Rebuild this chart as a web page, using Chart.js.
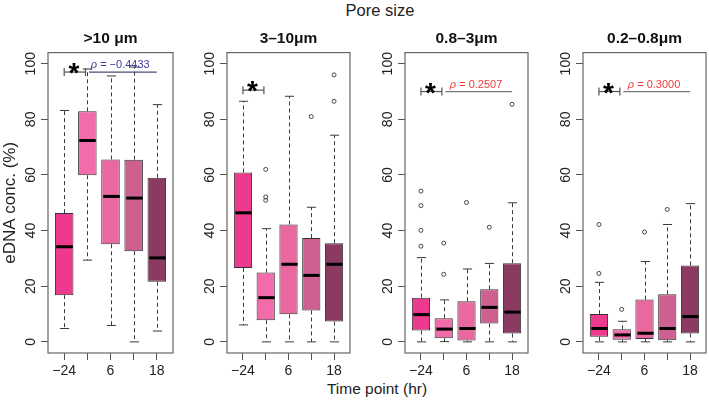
<!DOCTYPE html>
<html>
<head>
<meta charset="utf-8">
<script src="https://cdn.jsdelivr.net/npm/chart.js@4"></script>
<style>
body { margin: 0; width: 709px; height: 402px; position: relative; overflow: hidden; background: #fff;
       font-family: "Liberation Sans", Arial, sans-serif; color: #222; }
.panel { position: absolute; top: 0; width: 176px; height: 402px; }
.label { position: absolute; width: 200px; text-align: center; white-space: nowrap; }
</style>
</head>
<body>
<div class="label" style="left:280px; top:1px; font-size:16.5px;">Pore size</div>
<div class="label" style="left:277px; top:380px; font-size:15.5px;">Time point (hr)</div>
<div class="panel" style="left:0px"><canvas id="c0" width="176" height="402"></canvas></div>
<div class="panel" style="left:179px"><canvas id="c1" width="176" height="402"></canvas></div>
<div class="panel" style="left:357px"><canvas id="c2" width="176" height="402"></canvas></div>
<div class="panel" style="left:535px"><canvas id="c3" width="176" height="402"></canvas></div>
<script>
// time points (x positions 1..5), only every other one is labelled
const boxX = [1, 2, 3, 4, 5];
const tickLabels = ['\u221224', '', '6', '', '18'];
const yTicks = [0, 20, 40, 60, 80, 100];
const panelTitles = ['>10 \u03bcm', '3\u201310\u03bcm', '0.8\u20133\u03bcm', '0.2\u20130.8\u03bcm'];

// box stats, one row per pore size panel
const whiskLow = [
  [4.8, 29.4, 5.9, 0, 3.9],
  [6.1, 0, 0, 0, 0],
  [0, 0.1, 0, 0, 0],
  [0, 0, 0, 0, 0]
];
const q1 = [
  [16.8, 59.9, 35.1, 32.6, 21.6],
  [26.6, 7.8, 9.9, 11.3, 7.3],
  [4.1, 1.3, 0.5, 6.6, 3.0],
  [1.8, 0.8, 1.0, 0.6, 3.0]
];
const median = [
  [34.2, 72.4, 52.3, 51.7, 30.2],
  [46.4, 15.9, 27.9, 23.9, 27.9],
  [9.8, 4.6, 4.8, 12.4, 10.7],
  [4.8, 2.5, 3.1, 4.8, 9.1]
];
const q3 = [
  [46.3, 82.9, 65.6, 65.5, 59.0],
  [60.9, 24.9, 42.2, 37.3, 35.5],
  [15.9, 8.5, 14.6, 18.9, 28.3],
  [10.0, 4.5, 15.2, 17.1, 27.5]
];
const whiskHigh = [
  [83.2, 98.1, 95.6, 98.8, 85.3],
  [86.5, 40.7, 88.3, 48.4, 74.3],
  [30.3, 15.1, 26.2, 28.2, 50.0],
  [21.4, 7.4, 28.9, 42.2, 49.7]
];
const outX = [
  [],
  [2, 2, 2, 4, 5, 5],
  [1, 1, 1, 1, 2, 2, 3, 4, 5],
  [1, 1, 2, 3, 4]
];
const outY = [
  [],
  [62.0, 52.1, 50.9, 81.0, 96.0, 86.5],
  [54.2, 49.0, 40.1, 34.4, 35.5, 24.3, 50.1, 41.2, 85.4],
  [42.2, 24.6, 11.7, 39.5, 47.6]
];
const rhoValue = ['\u22120.4433', null, '0.2507', '0.3000'];

const boxColors = ['#EE3A8C', '#F26BAA', '#E8689F', '#CD6090', '#8B3A62'];
const rhoColors = ['#3B3B9C', null, '#EE3B3B', '#EE3B3B'];
// where the significance bracket / rho line sit (data units)
const sigY = [97, 90.5, 90, 90];

function seg(ctx, x1, y1, x2, y2) {
  ctx.beginPath(); ctx.moveTo(x1, y1); ctx.lineTo(x2, y2); ctx.stroke();
}

const font = '"Liberation Sans", Arial, sans-serif';

const boxParts = {
  id: 'boxParts',
  afterDatasetsDraw(chart, args, opts) {
    const p = opts.panel;
    const {ctx, chartArea: a} = chart;
    const xs = chart.scales.x, ys = chart.scales.y;
    const X = v => xs.getPixelForValue(v), Y = v => ys.getPixelForValue(v);
    const capHalf = (X(1.2) - X(1));
    const boxHalf = (X(1.4) - X(1));
    ctx.save();
    boxX.forEach((bx, i) => {
      const px = Math.round(X(bx)) + 0.5;
      ctx.strokeStyle = '#3a3a3a';
      ctx.lineWidth = 1;
      ctx.setLineDash([4, 3]);
      seg(ctx, px, Y(q3[p][i]), px, Y(whiskHigh[p][i]));
      seg(ctx, px, Y(q1[p][i]), px, Y(whiskLow[p][i]));
      ctx.setLineDash([]);
      seg(ctx, px - capHalf, Y(whiskHigh[p][i]), px + capHalf, Y(whiskHigh[p][i]));
      seg(ctx, px - capHalf, Y(whiskLow[p][i]), px + capHalf, Y(whiskLow[p][i]));
      ctx.strokeStyle = '#000';
      ctx.lineWidth = 3;
      seg(ctx, px - boxHalf + 1, Y(median[p][i]), px + boxHalf - 1, Y(median[p][i]));
    });

    // plot frame
    ctx.strokeStyle = '#666';
    ctx.lineWidth = 1.2;
    ctx.strokeRect(a.left, a.top, a.width, a.height);

    // significance bracket between first two time points
    const yy = Y(sigY[p]);
    ctx.strokeStyle = '#555';
    ctx.lineWidth = 1.2;
    seg(ctx, X(1), yy, X(1.92), yy);
    seg(ctx, X(1), yy - 4, X(1), yy + 4);
    seg(ctx, X(1.92), yy - 4, X(1.92), yy + 4);
    ctx.fillStyle = '#000';
    ctx.font = 'bold 28px ' + font;
    ctx.textAlign = 'center';
    ctx.textBaseline = 'alphabetic';
    ctx.fillText('*', X(1.42), yy + 10);

    if (rhoValue[p]) {
      ctx.strokeStyle = p === 0 ? '#4a4a7a' : '#777';
      seg(ctx, X(2.07), yy, X(5), yy);
      ctx.fillStyle = rhoColors[p];
      const italic = 'italic 11px ' + font, plain = '11px ' + font;
      const rest = ' = ' + rhoValue[p];
      ctx.font = italic; const w1 = ctx.measureText('\u03c1').width;
      ctx.font = plain; const w2 = ctx.measureText(rest).width;
      const x0 = X(3.42) - (w1 + w2) / 2;
      ctx.textAlign = 'left';
      ctx.font = italic; ctx.fillText('\u03c1', x0, yy - 4);
      ctx.font = plain; ctx.fillText(rest, x0 + w1, yy - 4);
    }
    ctx.restore();
  }
};

for (let p = 0; p < 4; p++) {
  new Chart(document.getElementById('c' + p), {
    type: 'bar',
    data: {
      datasets: [{
        type: 'bar',
        data: boxX.map((bx, i) => ({x: bx, y: [q1[p][i], q3[p][i]]})),
        backgroundColor: boxColors,
        borderColor: '#333',
        borderWidth: 1,
        borderSkipped: false,
        barPercentage: 0.8,
        categoryPercentage: 1
      }, {
        type: 'scatter',
        data: outX[p].map((ox, i) => ({x: ox, y: outY[p][i]})),
        pointRadius: 2,
        pointBorderWidth: 1,
        borderColor: '#444',
        backgroundColor: 'rgba(0,0,0,0)'
      }]
    },
    options: {
      responsive: false,
      animation: false,
      layout: {padding: {top: 0, right: 3, left: 0, bottom: 0}},
      plugins: {
        legend: {display: false},
        tooltip: {enabled: false},
        title: {
          display: true, text: panelTitles[p], fullSize: false, color: '#111',
          font: {family: font, size: 15.5, weight: 'bold'},
          padding: {top: 29, bottom: 5}
        },
        boxParts: {panel: p}
      },
      scales: {
        x: {
          type: 'linear', min: 0.3, max: 5.7, offset: false,
          afterBuildTicks: s => { s.ticks = boxX.map(v => ({value: v})); },
          afterFit: s => { s.height = 49; },
          grid: {display: true, drawOnChartArea: false, offset: false, tickLength: 7, color: '#555'},
          border: {display: false},
          ticks: {
            autoSkip: false, maxRotation: 0, padding: 3, color: '#222',
            font: {family: font, size: 14},
            callback: (v, i) => tickLabels[i]
          }
        },
        y: {
          min: -4, max: 104,
          afterBuildTicks: s => { s.ticks = yTicks.map(v => ({value: v})); },
          afterFit: s => { s.width = 48; },
          grid: {drawOnChartArea: false, tickLength: 7, color: '#555'},
          border: {display: false},
          ticks: {
            minRotation: 90, maxRotation: 90, crossAlign: 'center', padding: -2, color: '#222',
            font: {family: font, size: 14}
          },
          title: {
            display: p === 0, text: 'eDNA conc. (%)', color: '#222',
            font: {family: font, size: 17}, padding: {top: 0, bottom: 0}
          }
        }
      }
    },
    plugins: [boxParts]
  });
}
</script>
</body>
</html>
